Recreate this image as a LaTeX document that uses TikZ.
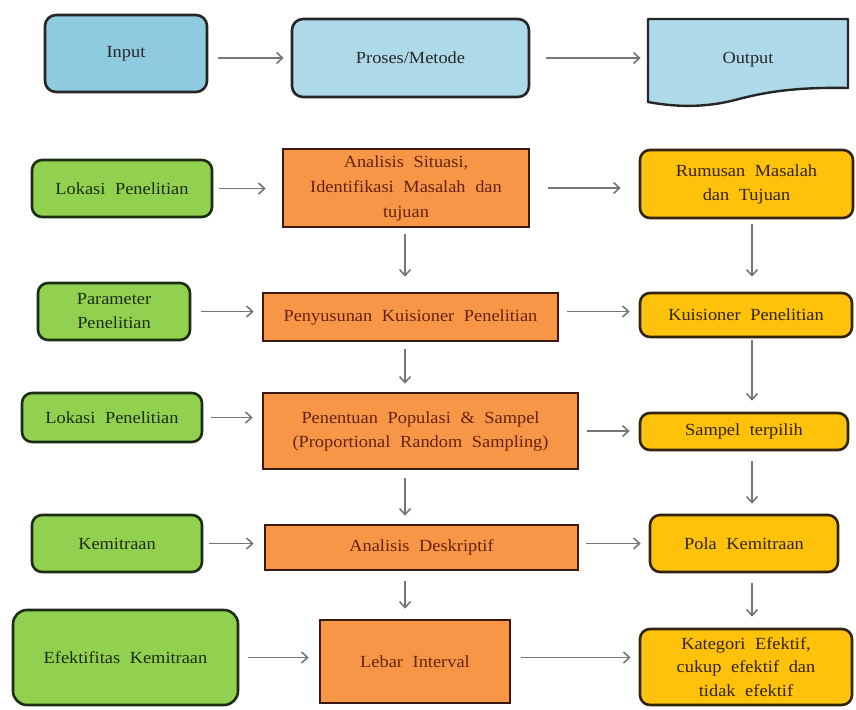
\documentclass[tikz,border=0pt]{standalone}
\usepackage{fontspec}
\setmainfont{Liberation Serif}[FakeStretch=1.08,WordSpace=2.1]
\usetikzlibrary{arrows.meta,calc}
\definecolor{blueA}{RGB}{142,202,224}
\definecolor{blueB}{RGB}{174,217,233}
\definecolor{greenF}{RGB}{146,208,80}
\definecolor{greenD}{RGB}{28,46,18}
\definecolor{orangeF}{RGB}{248,150,72}
\definecolor{orangeD}{RGB}{58,26,10}
\definecolor{yellowF}{RGB}{255,194,10}
\definecolor{yellowD}{RGB}{50,36,6}
\definecolor{arrowC}{RGB}{118,118,118}
\definecolor{txtO}{RGB}{100,35,15}
\definecolor{txtB}{RGB}{40,40,40}
\begin{document}
\begin{tikzpicture}[x=1pt,y=-1pt,
  base/.style={line width=2.6pt, align=center, inner sep=0pt, font=\fontsize{17}{24}\selectfont},
  bluebox/.style={base, draw=black!85, rounded corners=11pt, text=txtB},
  greenbox/.style={base, draw=greenD, fill=greenF, rounded corners=10pt, text=greenD},
  orangebox/.style={base, draw=orangeD, fill=orangeF, text=txtO},
  yellowbox/.style={base, draw=yellowD, fill=yellowF, rounded corners=10pt, text=yellowD},
  arr/.style={draw=arrowC, line width=1.6pt, -{Straight Barb[length=6pt,width=11pt]}, shorten <=8pt, shorten >=9pt}
]
\useasboundingbox (0,0) rectangle (856,709);

% top row
\node[bluebox, fill=blueA, minimum width=162pt, minimum height=77pt] (input) at (126,53.5) {Input};
\node[bluebox, fill=blueB, minimum width=237pt, minimum height=78pt] (proses) at (410.5,58) {Proses/Metode};
\draw[line width=2.4pt, draw=black!85, fill=blueB, line join=round]
  (648,19) -- (848,19) -- (848,88) .. controls (795,87) and (765,92) .. (735,100)
  .. controls (700,109) and (670,106) .. (648,102) -- cycle;
\node[base, text=txtB, minimum width=200pt, minimum height=78pt] (output) at (748,60) {Output};

% row 1
\node[greenbox, minimum width=180pt, minimum height=57pt] (lok1) at (122,188.5) {Lokasi Penelitian};
\node[orangebox, minimum width=246pt, minimum height=78pt, font=\fontsize{17}{25}\selectfont] (analisis) at (406,188) {Analisis Situasi,\\Identifikasi Masalah dan\\tujuan};
\node[yellowbox, minimum width=213pt, minimum height=68pt] (rumusan) at (746.5,184) {Rumusan Masalah\\dan Tujuan};

% row 2
\node[greenbox, minimum width=152pt, minimum height=57pt] (param) at (114,311.5) {Parameter\\Penelitian};
\node[orangebox, minimum width=295pt, minimum height=48pt] (penyusunan) at (410.5,317) {Penyusunan Kuisioner Penelitian};
\node[yellowbox, minimum width=212pt, minimum height=44pt] (kuisioner) at (746,315) {Kuisioner Penelitian};

% row 3
\node[greenbox, minimum width=180pt, minimum height=49pt] (lok2) at (112,417.5) {Lokasi Penelitian};
\node[orangebox, minimum width=315pt, minimum height=76pt] (penentuan) at (420.5,431) {Penentuan Populasi \& Sampel\\(Proportional Random Sampling)};
\node[yellowbox, minimum width=208pt, minimum height=37pt] (sampel) at (744,431.5) {Sampel terpilih};

% row 4
\node[greenbox, minimum width=170pt, minimum height=57pt] (kemitraan) at (117,543.5) {Kemitraan};
\node[orangebox, minimum width=313pt, minimum height=45pt] (deskriptif) at (421.5,547.5) {Analisis Deskriptif};
\node[yellowbox, minimum width=188pt, minimum height=57pt] (pola) at (744,543.5) {Pola Kemitraan};

% row 5
\node[greenbox, minimum width=225pt, minimum height=95pt, rounded corners=14pt] (efektif) at (125.5,657.5) {Efektifitas Kemitraan};
\node[orangebox, minimum width=190pt, minimum height=83pt] (lebar) at (415,661.5) {Lebar Interval};
\node[yellowbox, minimum width=212pt, minimum height=76pt, font=\fontsize{17}{23.5}\selectfont] (kategori) at (746,667) {Kategori Efektif,\\cukup efektif dan\\tidak efektif};

% columns for vertical connectors
\coordinate (ocol) at (405,0);
\coordinate (ycol) at (752,0);

% horizontal connectors
\draw[arr, shorten <=10pt, shorten >=7pt] (input.east |- proses.west) -- (proses.west);
\draw[arr, shorten <=16pt, shorten >=6pt] (proses.east) -- (output.west |- proses.east);
\draw[arr, shorten <=6pt, shorten >=16pt] (lok1.east) -- (analisis.west |- lok1.east);
\draw[arr, shorten <=18pt, shorten >=18pt] (analisis.east) -- (rumusan.west |- analisis.east);
\draw[arr, shorten <=10pt, shorten >=8pt] (param.east) -- (penyusunan.west |- param.east);
\draw[arr] (penyusunan.east |- param.east) -- (kuisioner.west |- param.east);
\draw[arr] (lok2.east) -- (penentuan.west |- lok2.east);
\draw[arr] (penentuan.east) -- (sampel.west |- penentuan.east);
\draw[arr, shorten <=6pt, shorten >=10pt] (kemitraan.east) -- (deskriptif.west |- kemitraan.east);
\draw[arr, shorten <=7pt, shorten >=8pt] (deskriptif.east |- kemitraan.east) -- (pola.west |- kemitraan.east);
\draw[arr, shorten <=9pt, shorten >=10pt] (efektif.east) -- (lebar.west |- efektif.east);
\draw[arr, shorten <=10pt, shorten >=8pt] (lebar.east |- efektif.east) -- (kategori.west |- efektif.east);

% vertical connectors
\draw[arr, shorten <=6pt, shorten >=15pt] (analisis.south -| ocol) -- (penyusunan.north -| ocol);
\draw[arr, shorten <=7pt, shorten >=8pt] (penyusunan.south -| ocol) -- (penentuan.north -| ocol);
\draw[arr, shorten <=8pt, shorten >=8pt] (penentuan.south -| ocol) -- (deskriptif.north -| ocol);
\draw[arr, shorten <=10pt, shorten >=10pt] (deskriptif.south -| ocol) -- (lebar.north -| ocol);
\draw[arr, shorten <=5pt, shorten >=15pt] (rumusan.south -| ycol) -- (kuisioner.north -| ycol);
\draw[arr, shorten <=1.5pt, shorten >=11pt] (kuisioner.south -| ycol) -- (sampel.north -| ycol);
\draw[arr, shorten <=10pt, shorten >=10pt] (sampel.south -| ycol) -- (pola.north -| ycol);
\draw[arr, shorten <=10pt, shorten >=11pt] (pola.south -| ycol) -- (kategori.north -| ycol);
\end{tikzpicture}
\end{document}
